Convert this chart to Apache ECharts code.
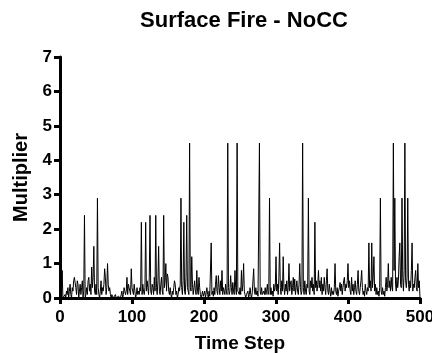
<!DOCTYPE html>
<html>
<head>
<meta charset="utf-8">
<script src="https://cdn.jsdelivr.net/npm/echarts@6/dist/echarts.min.js"></script>
<style>
  html, body { margin: 0; padding: 0; background: #fff; }
  #chart { width: 432px; height: 353px; }
</style>
</head>
<body>
<div id="chart"></div>
<script>
// multiplier per time step (t = 0 .. 500)
var steps0 = [0, 2.2, 0.1, 0.8, 0, 0, 0, 0.1, 0, 0.2, 0.1, 0.3, 0, 0.2, 0.4, 0.1, 0, 0.3, 0.2, 0.5, 0.6, 0.6, 0.3, 0.1, 0.5, 0.4, 0, 0.2, 0.4, 0.1, 0.3, 0.5, 0, 0.2, 2.4, 0, 0.1, 0.3, 0.1, 0.5, 0.6, 0.2, 0.4, 0.1, 0.9, 0.3, 0.6, 1.5, 0.2, 0.1]
var steps50 = [0.4, 0.1, 2.9, 0.3, 0.1, 0, 0.2, 0.5, 0.1, 0.3, 0.2, 0.4, 0.85, 0.6, 0.1, 0.3, 1.0, 0.4, 0.2, 0.3, 0.1, 0, 0.1, 0.1, 0, 0.05, 0, 0.1, 0, 0.05, 0, 0.05, 0.1, 0, 0, 0.1, 0.2, 0, 0.1, 0.3, 0.35, 0.1, 0.2, 0.6, 0.1, 0.4, 0.3, 0.2, 0.1, 0.85]
var steps100 = [0.3, 0.2, 0.1, 0.4, 0.2, 0, 0.1, 0.3, 0.1, 0.2, 0.1, 0.3, 0.2, 2.2, 0.1, 0.4, 0.2, 0.1, 0.3, 2.2, 0.2, 0.5, 0.3, 0.1, 0.6, 2.4, 0.2, 0.1, 0.4, 0.3, 0.1, 0.6, 0.2, 2.4, 0.3, 0.1, 0.5, 1.5, 0.2, 0.1, 0.4, 0.6, 0.2, 0.1, 2.4, 0.3, 0.5, 1.0, 0.2, 0.7]
var steps150 = [0.6, 0.2, 0.1, 0.3, 0.1, 0, 0.2, 0.1, 0.3, 0.5, 0.4, 0.1, 0.2, 0, 0.1, 0.3, 0.2, 0.4, 2.9, 0.3, 0.1, 0.5, 2.2, 0.2, 0.1, 0.6, 2.4, 0.3, 0.2, 0.1, 4.5, 0.3, 0.2, 1.2, 0.4, 0.1, 0.3, 0.5, 0.2, 0.1, 0.8, 0.2, 0.1, 0.6, 0.3, 0.1, 0, 0.1, 0.2, 0.05]
var steps200 = [0.1, 0.2, 0, 0.15, 0.3, 0.1, 0, 0.2, 0.05, 0.1, 1.6, 0.1, 0.2, 0.05, 0.3, 0.1, 0.4, 0.65, 0.2, 0.1, 0.65, 0.3, 0.1, 0.5, 0.2, 0.8, 0.1, 0.3, 0.2, 0.1, 0.4, 0.2, 0.1, 4.5, 0.3, 0.1, 0.2, 0.65, 0.3, 0.1, 0.45, 0.2, 0.1, 0.8, 0.3, 0.1, 4.5, 0.2, 0.2, 0.1]
var steps250 = [0.3, 0.1, 0.8, 0.2, 0.4, 1.0, 0.2, 0.1, 0, 0.1, 0.05, 0.2, 0, 0.1, 0.3, 0.1, 0, 0.15, 0.2, 0.85, 0.2, 0.1, 0.3, 0.1, 0.2, 0.05, 0.1, 4.5, 0.2, 0.1, 0.3, 0.1, 0.05, 0.2, 0.1, 0.3, 0.1, 0.2, 0.4, 0.1, 0.2, 2.9, 0.1, 0.3, 0.1, 0.2, 0.05, 0.4, 0.2, 0.3]
var steps300 = [1.2, 0.2, 0.4, 0.1, 0.6, 1.6, 0.3, 0.1, 0.5, 0.2, 1.2, 0.3, 0.1, 0.4, 0.2, 0.5, 0.1, 0.3, 1.0, 0.2, 0.4, 0.5, 0.1, 0.3, 0.6, 0.2, 0.55, 0.1, 0.3, 0.5, 0.2, 0.1, 0.4, 1.0, 0.3, 0.1, 0.2, 4.5, 0.3, 0.1, 0.5, 0.2, 0.1, 0.4, 0.3, 2.9, 0.2, 0.1, 0.5, 0.3]
var steps350 = [0.6, 0.2, 0.4, 0.1, 2.2, 0.3, 0.5, 0.2, 0.4, 0.8, 0.3, 0.5, 0.2, 0.6, 0.1, 0.4, 0.2, 0.6, 0.3, 0.1, 0.5, 0.85, 0.2, 0.1, 0.4, 0.2, 0.05, 0.3, 0.1, 0.2, 0.1, 0.3, 1.0, 0.2, 0.1, 0.3, 0.05, 0.2, 0.3, 0.45, 0.2, 0.4, 0.1, 0.3, 0.5, 0.6, 0.2, 0.4, 0.3, 0.5]
var steps400 = [1.0, 0.3, 0.5, 0.2, 0.1, 0.6, 0.2, 0.4, 0.1, 0.3, 0.5, 0.2, 0.1, 0.4, 0.8, 0.2, 0.1, 0.3, 0.5, 0.8, 0.3, 0.1, 0.2, 0.05, 0.4, 0.2, 0.1, 0.3, 0.2, 1.6, 0.3, 0.5, 0.2, 1.6, 0.3, 0.6, 1.2, 0.2, 0.4, 0.1, 0.3, 0.1, 0.2, 0.05, 0.3, 2.9, 0.2, 0.1, 0.3, 0.1]
var steps450 = [0.2, 0.05, 0.3, 0.6, 0.2, 0.4, 1.0, 0.3, 0.5, 0.2, 0.6, 0.3, 0.2, 4.5, 0.8, 2.9, 0.4, 0.2, 0.6, 0.3, 0.5, 1.2, 1.6, 0.4, 0.3, 2.9, 0.6, 0.2, 0.8, 4.5, 0.5, 0.3, 0.6, 2.9, 0.4, 0.2, 0.5, 0.3, 0.8, 1.6, 0.2, 0.4, 0.3, 0.6, 0.8, 0.3, 0.2, 1.0, 0.3, 0.5]
var steps500 = [0]

var multiplier = [].concat(steps0, steps50, steps100, steps150, steps200, steps250,
  steps300, steps350, steps400, steps450, steps500)
var points = multiplier.map(function (v, i) { return [i, v] })

var font = 'Liberation Sans, Arial, sans-serif'
var chart = echarts.init(document.getElementById('chart'))
chart.setOption({
  backgroundColor: '#fff',
  animation: false,
  title: {
    text: 'Surface Fire - NoCC',
    left: 239,
    top: 5,
    textAlign: 'center',
    textStyle: { fontFamily: font, fontSize: 22, fontWeight: 'bold', color: '#000' }
  },
  grid: { left: 60, right: 12, top: 57, bottom: 55, outerBoundsMode: 'none' },
  xAxis: {
    type: 'value',
    min: 0,
    max: 500,
    interval: 100,
    name: 'Time Step',
    nameLocation: 'middle',
    nameGap: 36,
    nameTextStyle: { fontFamily: font, fontSize: 19, fontWeight: 'bold', color: '#000' },
    axisLine: { show: true, lineStyle: { color: '#000', width: 3 } },
    axisTick: { show: true, length: 6, lineStyle: { color: '#000', width: 3 } },
    axisLabel: { fontFamily: font, fontSize: 17, fontWeight: 'bold', color: '#000', margin: 11 },
    splitLine: { show: false }
  },
  yAxis: {
    type: 'value',
    min: 0,
    max: 7,
    interval: 1,
    name: 'Multiplier',
    nameLocation: 'middle',
    nameGap: 27,
    nameTextStyle: { fontFamily: font, fontSize: 20, fontWeight: 'bold', color: '#000' },
    axisLine: { show: true, lineStyle: { color: '#000', width: 3 } },
    axisTick: { show: true, length: 6, lineStyle: { color: '#000', width: 3 } },
    axisLabel: { fontFamily: font, fontSize: 17, fontWeight: 'bold', color: '#000', margin: 8 },
    splitLine: { show: false }
  },
  series: [{
    type: 'line',
    data: points,
    showSymbol: false,
    sampling: null,
    lineStyle: { color: '#000', width: 1 },
    z: 1
  }]
})
</script>
</body>
</html>
